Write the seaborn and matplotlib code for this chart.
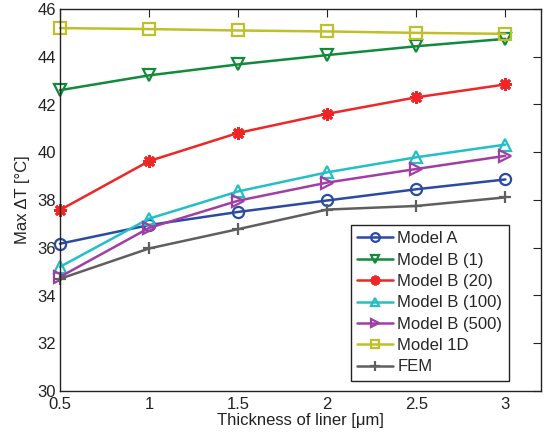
import matplotlib
matplotlib.use("Agg")
import matplotlib.pyplot as plt
import seaborn as sns
import pandas as pd

thickness = [0.5, 1.0, 1.5, 2.0, 2.5, 3.0]
model_a = [36.17, 36.95, 37.50, 37.98, 38.45, 38.86]
model_b1 = [42.60, 43.22, 43.68, 44.07, 44.44, 44.75]
model_b20 = [37.58, 39.63, 40.81, 41.61, 42.30, 42.84]
model_b100 = [35.20, 37.22, 38.36, 39.16, 39.79, 40.32]
model_b500 = [34.78, 36.83, 37.97, 38.73, 39.30, 39.85]
model_1d = [45.20, 45.16, 45.10, 45.06, 45.00, 44.96]
fem = [34.70, 35.97, 36.78, 37.60, 37.75, 38.11]

series_names = ["Model A", "Model B (1)", "Model B (20)", "Model B (100)",
                "Model B (500)", "Model 1D", "FEM"]
series_values = [model_a, model_b1, model_b20, model_b100, model_b500, model_1d, fem]
colors = ["#2b4ba3", "#128a3c", "#f02626", "#22c0c6", "#a13ea5", "#bfbf2a", "#5f5f5f"]
markers = ["o", "v", (8, 2, 0), "^", ">", "s", "+"]

rows = []
for name, vals in zip(series_names, series_values):
    for x, y in zip(thickness, vals):
        rows.append({"thickness": x, "value": y, "series": name})
df = pd.DataFrame(rows)

sns.set_theme(style="white")
plt.rcParams["font.family"] = ["Liberation Sans", "DejaVu Sans"]

W, H = 546, 436
fig = plt.figure(figsize=(W / 100, H / 100), dpi=100)
ax = fig.add_axes([60 / W, 1 - 391 / H, (541 - 60) / W, (391 - 9) / H])

for name, col, mk in zip(series_names, colors, markers):
    sub = df[df["series"] == name]
    ms = 9 if (mk == "+" or isinstance(mk, tuple)) else 8
    sns.lineplot(data=sub, x="thickness", y="value", ax=ax, color=col,
                 marker=mk, markersize=ms, markerfacecolor="none",
                 markeredgecolor=col,
                 markeredgewidth=2.0 if isinstance(mk, tuple) else 1.6,
                 linewidth=1.8, label=name, clip_on=False)

ax.set_xlim(0.5, 3.2)
ax.set_ylim(30, 46)
ax.set_xticks([0.5, 1, 1.5, 2, 2.5, 3])
ax.set_xticklabels(["0.5", "1", "1.5", "2", "2.5", "3"])
ax.set_yticks([30, 32, 34, 36, 38, 40, 42, 44, 46])
ax.tick_params(direction="in", length=6, width=0.8, top=True, right=True,
               labelsize=12, colors="#222222", pad=3)
ax.tick_params(axis="x", pad=4)
for s in ax.spines.values():
    s.set_color("#222222")
    s.set_linewidth(1.0)
ax.set_xlabel("Thickness of liner [μm]", fontsize=12, color="#222222", labelpad=1)
ax.set_ylabel("Max ΔT [°C]", fontsize=12, color="#222222", labelpad=5)

leg = ax.legend(loc="lower right", bbox_to_anchor=(509 / W, 1 - 381 / H),
                bbox_transform=fig.transFigure, fontsize=12, frameon=True,
                fancybox=False, edgecolor="#222222", framealpha=1,
                handlelength=2.15, handletextpad=0.25, borderpad=0.4,
                labelspacing=0.38, borderaxespad=0, markerscale=0.78)
leg.get_frame().set_linewidth(1.0)

fig.savefig("out.png", dpi=100)
